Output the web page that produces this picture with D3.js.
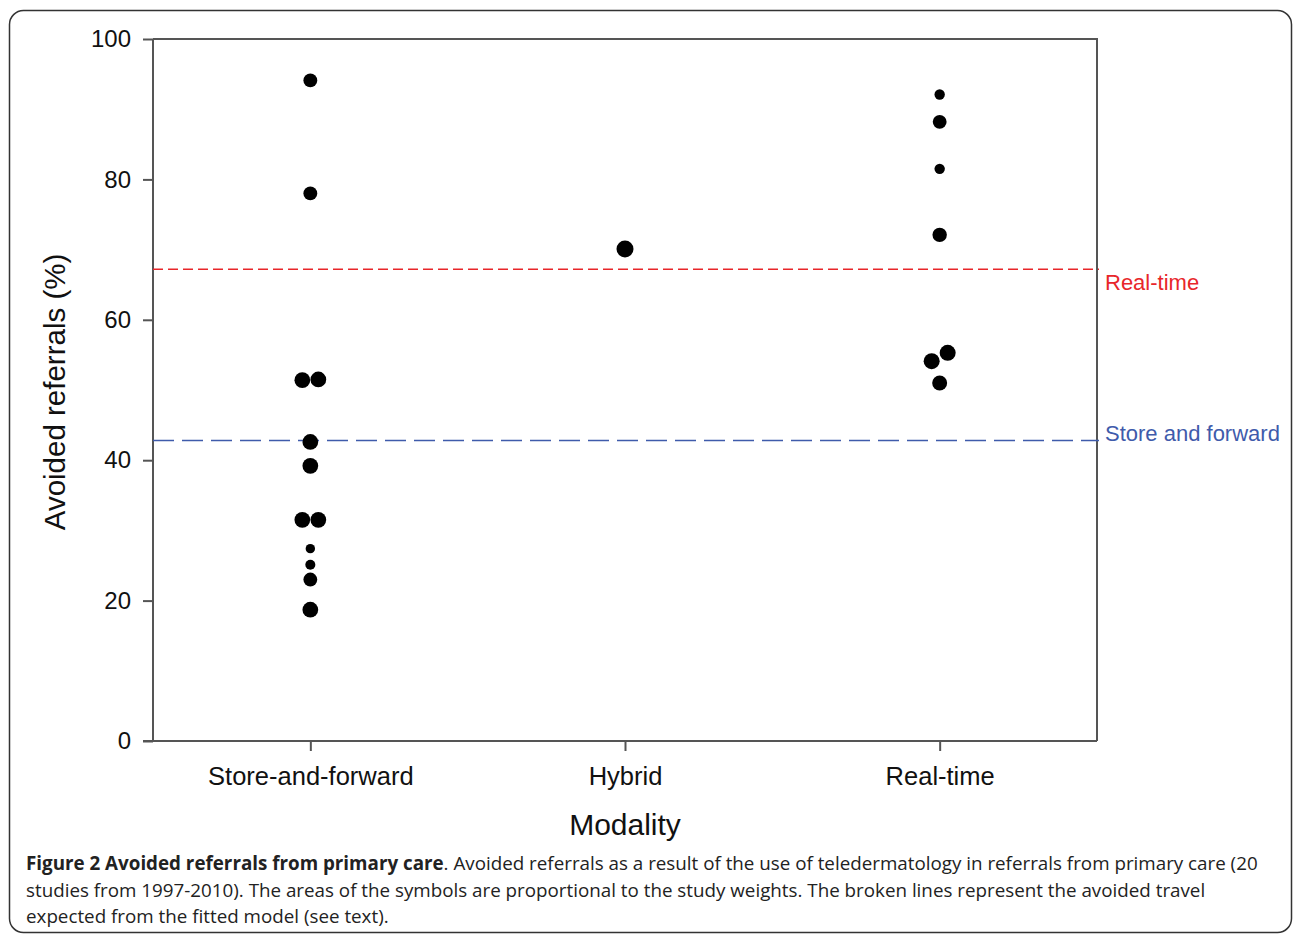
<!DOCTYPE html>
<html>
<head>
<meta charset="utf-8">
<script src="https://cdn.jsdelivr.net/npm/d3@7"></script>
<style>
  body { margin: 0; background: #fff; }
  svg { display: block; }
</style>
</head>
<body>
<div id="chart"></div>
<script>
// categories on the x axis
const modalities = ['Store-and-forward', 'Hybrid', 'Real-time']

// one entry per study: modality, avoided referrals (%), study weight
const studyModality = [
  'Store-and-forward', 'Store-and-forward', 'Store-and-forward', 'Store-and-forward',
  'Store-and-forward', 'Store-and-forward', 'Store-and-forward', 'Store-and-forward',
  'Store-and-forward', 'Store-and-forward', 'Store-and-forward', 'Store-and-forward',
  'Hybrid',
  'Real-time', 'Real-time', 'Real-time', 'Real-time', 'Real-time', 'Real-time', 'Real-time'
]
const studyAvoided = [
  94.1, 78.0, 51.4, 51.5, 42.6, 39.2, 31.5, 31.5, 27.4, 25.1, 23.0, 18.7,
  70.1,
  92.1, 88.2, 81.5, 72.1, 54.1, 55.3, 51.0
]
const studyWeight = [
  48, 48, 62, 62, 62, 62, 62, 62, 22, 25, 48, 62,
  72,
  27, 48, 27, 52, 64, 64, 56
]

// fitted model lines
const fittedNames = ['Real-time', 'Store and forward']
const fittedValues = [67.2, 42.8]

const yTicks = [0, 20, 40, 60, 80, 100]

const W = 1293, H = 935
const margin = { left: 153, right: 196, top: 39, bottom: 194 }
const width = W - margin.left - margin.right
const height = H - margin.top - margin.bottom

const svg = d3.select('#chart').append('svg')
  .attr('width', W)
  .attr('height', H)

// rounded frame round the figure
svg.append('rect')
  .attr('x', 9.5).attr('y', 10.5)
  .attr('width', W - 11).attr('height', H - 13)
  .attr('rx', 14).attr('ry', 14)
  .style('fill', 'none')
  .style('stroke', '#333')
  .style('stroke-width', 1.5)

const g = svg.append('g')
  .attr('transform', `translate(${margin.left},${margin.top})`)

/*
 * scales
 */
const xScale = d3.scalePoint()
  .domain(modalities)
  .range([0, width])
  .padding(0.5)

const yScale = d3.scaleLinear()
  .domain([0, 100])
  .range([height, 0])

const rScale = d3.scaleSqrt()
  .domain([0, 64])
  .range([0, 8])

/*
 * plot box: top and right edges
 */
g.append('path')
  .attr('d', `M0,0H${width}V${height}`)
  .style('fill', 'none')
  .style('stroke', '#555')
  .style('stroke-width', 2)

/*
 * axes
 */
const yAxis = d3.axisLeft(yScale)
  .tickValues(yTicks)
  .tickSize(10)
  .tickPadding(12)

const yG = g.append('g')
  .attr('class', 'y axis')
  .call(yAxis)

const xAxis = d3.axisBottom(xScale)
  .tickSize(10)
  .tickPadding(16)

const xG = g.append('g')
  .attr('class', 'x axis')
  .attr('transform', `translate(0,${height})`)
  .call(xAxis)

// no end caps on the domain lines
yG.select('.domain').attr('d', `M0,${height}V0`)
xG.select('.domain').attr('d', `M-10,0H${width}`)

g.selectAll('.axis path, .axis line')
  .style('stroke', '#555')
  .style('stroke-width', 2)

g.selectAll('.axis text')
  .style('font-family', '"Liberation Sans", Arial, sans-serif')
  .style('fill', '#111')

yG.selectAll('text').style('font-size', '24px')
xG.selectAll('text')
  .style('font-size', '25.5px')
  .attr('dy', '0.71em')

/*
 * axis titles
 */
g.append('text')
  .attr('transform', `translate(-96,${height / 2 + 2}) rotate(-90)`)
  .attr('text-anchor', 'middle')
  .attr('dominant-baseline', 'middle')
  .style('font-family', '"Liberation Sans", Arial, sans-serif')
  .style('font-size', '29.5px')
  .style('fill', '#111')
  .text('Avoided referrals (%)')

g.append('text')
  .attr('x', width / 2)
  .attr('y', height + 94)
  .attr('text-anchor', 'middle')
  .style('font-family', '"Liberation Sans", Arial, sans-serif')
  .style('font-size', '30px')
  .style('fill', '#111')
  .text('Modality')

/*
 * fitted model lines
 */
const lineColors = ['#e8262a', '#3f5bab']
const lineDash = ['10,5', '21,8']
const labelDy = [15, -5]

fittedValues.forEach(function(v, i) {
  g.append('line')
    .attr('x1', 0).attr('x2', width + 2)
    .attr('y1', yScale(v)).attr('y2', yScale(v))
    .style('stroke', lineColors[i])
    .style('stroke-width', 1.6)
    .style('stroke-dasharray', lineDash[i])

  g.append('text')
    .attr('x', width + 8)
    .attr('y', yScale(v) + labelDy[i])
    .attr('dominant-baseline', 'middle')
    .style('font-family', '"Liberation Sans", Arial, sans-serif')
    .style('font-size', '22px')
    .style('fill', lineColors[i])
    .text(fittedNames[i])
})

/*
 * study points, dodged sideways where two nearly coincide
 */
const points = studyAvoided.map(function(v, i) {
  return { m: studyModality[i], v: v, w: studyWeight[i], dx: 0 }
})

modalities.forEach(function(m) {
  const grp = points.filter(p => p.m === m).sort((a, b) => a.v - b.v)
  for (let i = 0; i < grp.length - 1; i++) {
    const gap = Math.abs(yScale(grp[i].v) - yScale(grp[i + 1].v))
    if (gap < 12 && grp[i].dx === 0) {
      grp[i].dx = -8
      grp[i + 1].dx = 8
      i++
    }
  }
})

g.selectAll('circle.study')
  .data(points)
  .enter().append('circle')
  .attr('class', 'study')
  .attr('cx', d => xScale(d.m) + d.dx)
  .attr('cy', d => yScale(d.v))
  .attr('r', d => rScale(d.w))
  .style('fill', '#000')

/*
 * caption
 */
const cap = svg.append('text')
  .attr('x', 26)
  .style('font-family', '"Open Sans", sans-serif')
  .style('font-size', '18.8px')
  .style('fill', '#222')

const capLines = [
  ['Figure 2 Avoided referrals from primary care', '. Avoided referrals as a result of the use of teledermatology in referrals from primary care (20'],
  ['', 'studies from 1997-2010). The areas of the symbols are proportional to the study weights. The broken lines represent the avoided travel'],
  ['', 'expected from the fitted model (see text).']
]
const capY = [870, 897, 923]

capLines.forEach(function(l, i) {
  const t = cap.append('tspan').attr('x', 26).attr('y', capY[i])
  if (l[0]) t.append('tspan').style('font-weight', 'bold').text(l[0])
  t.append('tspan').text(l[1])
})
</script>
</body>
</html>
